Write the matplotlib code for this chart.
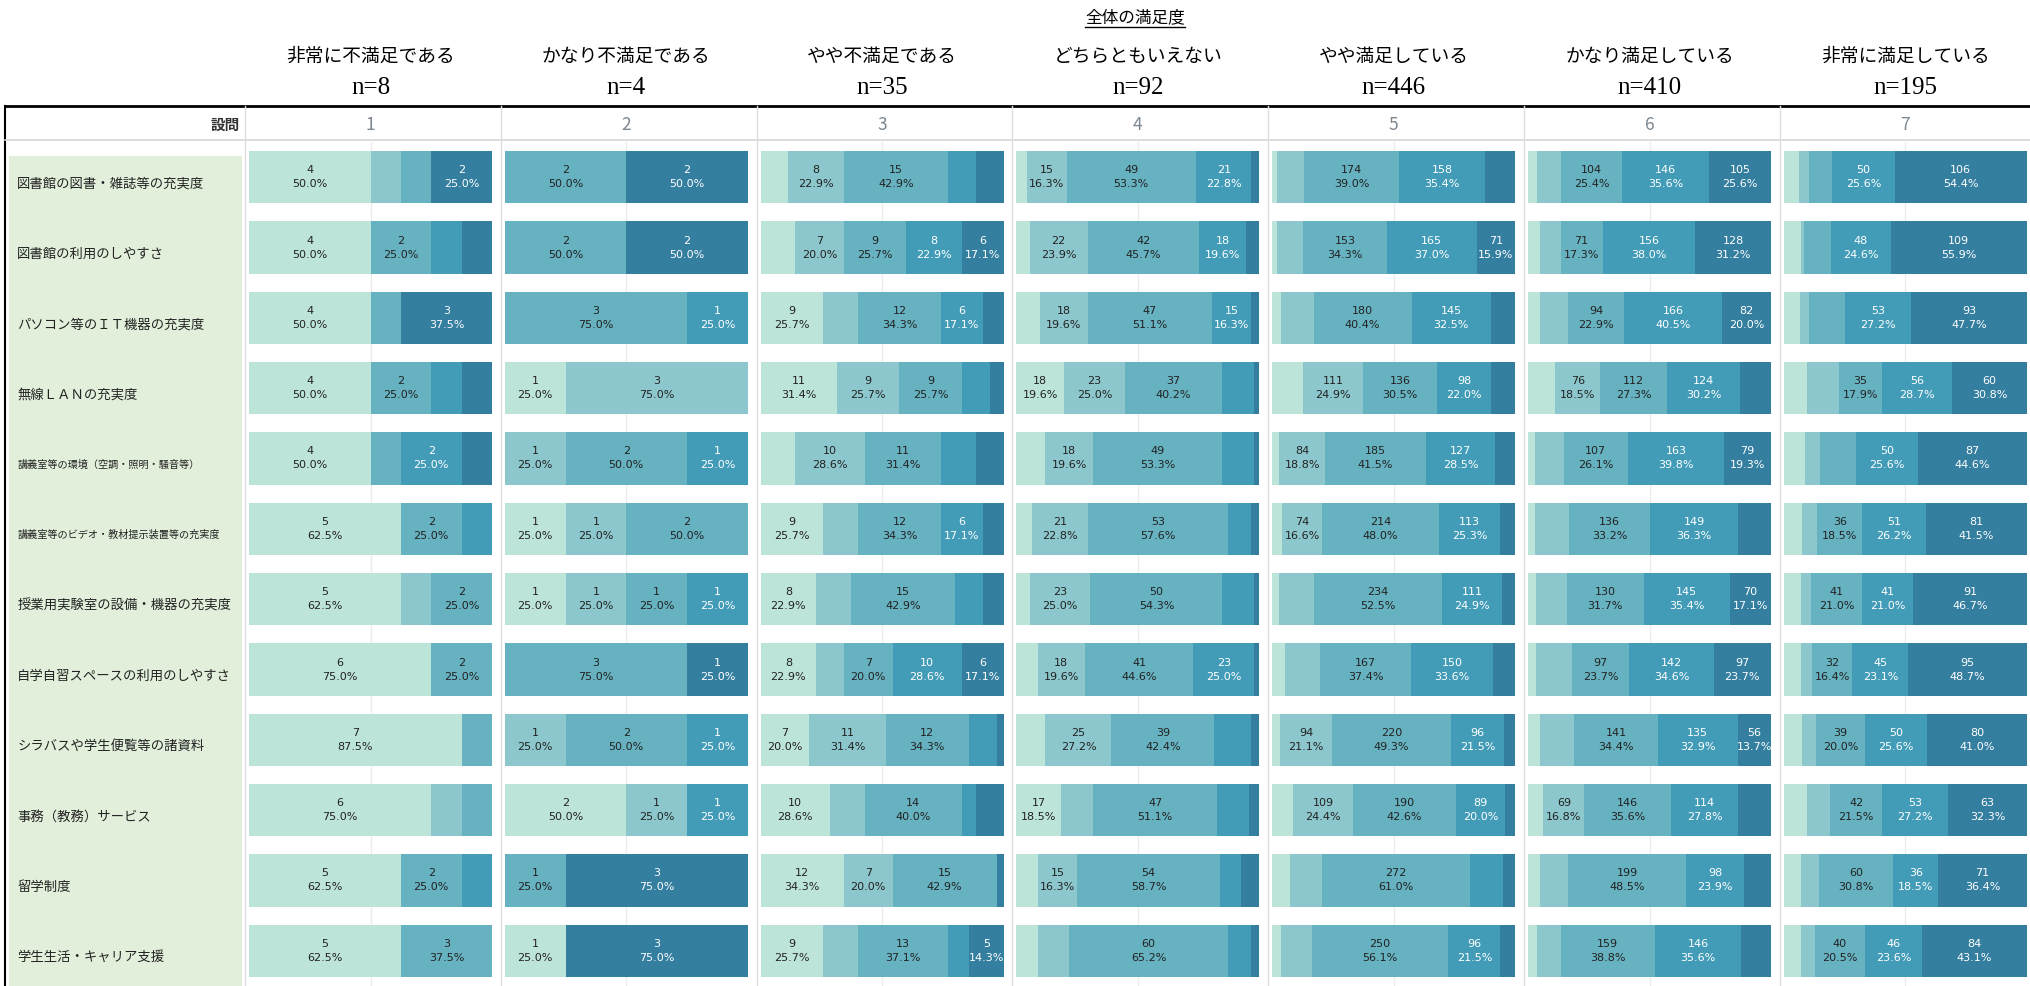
import numpy as np
import matplotlib.pyplot as plt
from matplotlib.lines import Line2D

plt.rcParams['font.family'] = ['Noto Sans CJK JP', 'DejaVu Sans']

# overall satisfaction groups (columns)
groups = ['非常に不満足である', 'かなり不満足である', 'やや不満足である', 'どちらともいえない',
          'やや満足している', 'かなり満足している', '非常に満足している']
group_n = [8, 4, 35, 92, 446, 410, 195]
col_numbers = ['1', '2', '3', '4', '5', '6', '7']

questions = ['図書館の図書・雑誌等の充実度', '図書館の利用のしやすさ', 'パソコン等のＩＴ機器の充実度',
             '無線ＬＡＮの充実度', '講義室等の環境（空調・照明・騒音等）',
             '講義室等のビデオ・教材提示装置等の充実度', '授業用実験室の設備・機器の充実度',
             '自学自習スペースの利用のしやすさ', 'シラバスや学生便覧等の諸資料',
             '事務（教務）サービス', '留学制度', '学生生活・キャリア支援']

# counts per question, answer levels low -> high (5 levels)
g1 = [[4, 1, 1, 0, 2], [4, 0, 2, 1, 1], [4, 0, 1, 0, 3], [4, 0, 2, 1, 1],
      [4, 0, 1, 2, 1], [5, 0, 2, 1, 0], [5, 1, 2, 0, 0], [6, 0, 2, 0, 0],
      [7, 0, 1, 0, 0], [6, 1, 1, 0, 0], [5, 0, 2, 1, 0], [5, 0, 3, 0, 0]]
g2 = [[0, 0, 2, 0, 2], [0, 0, 2, 0, 2], [0, 0, 3, 1, 0], [1, 3, 0, 0, 0],
      [0, 1, 2, 1, 0], [1, 1, 2, 0, 0], [1, 1, 1, 1, 0], [0, 0, 3, 0, 1],
      [0, 1, 2, 1, 0], [2, 1, 0, 1, 0], [0, 0, 1, 0, 3], [1, 0, 0, 0, 3]]
g3 = [[4, 8, 15, 4, 4], [5, 7, 9, 8, 6], [9, 5, 12, 6, 3], [11, 9, 9, 4, 2],
      [5, 10, 11, 5, 4], [9, 5, 12, 6, 3], [8, 5, 15, 4, 3], [8, 4, 7, 10, 6],
      [7, 11, 12, 4, 1], [10, 5, 14, 2, 4], [12, 7, 15, 0, 1], [9, 5, 13, 3, 5]]
g4 = [[4, 15, 49, 21, 3], [5, 22, 42, 18, 5], [9, 18, 47, 15, 3], [18, 23, 37, 12, 2],
      [11, 18, 49, 12, 2], [6, 21, 53, 9, 3], [5, 23, 50, 12, 2], [8, 18, 41, 23, 2],
      [11, 25, 39, 14, 3], [17, 12, 47, 12, 4], [8, 15, 54, 8, 7], [8, 12, 60, 9, 3]]
g5 = [[8, 51, 174, 158, 55], [9, 48, 153, 165, 71], [17, 59, 180, 145, 45],
      [56, 111, 136, 98, 45], [13, 84, 185, 127, 37], [18, 74, 214, 113, 27],
      [12, 65, 234, 111, 24], [23, 65, 167, 150, 41], [15, 94, 220, 96, 21],
      [39, 109, 190, 89, 19], [32, 59, 272, 60, 23], [17, 56, 250, 96, 27]]
g6 = [[16, 39, 104, 146, 105], [21, 34, 71, 156, 128], [21, 47, 94, 166, 82],
      [46, 76, 112, 124, 52], [11, 50, 107, 163, 79], [12, 58, 136, 149, 55],
      [13, 52, 130, 145, 70], [14, 60, 97, 142, 97], [21, 57, 141, 135, 56],
      [26, 69, 146, 114, 55], [21, 47, 199, 98, 45], [16, 39, 159, 146, 50]]
g7 = [[12, 8, 19, 50, 106], [14, 2, 22, 48, 109], [13, 7, 29, 53, 93],
      [19, 25, 35, 56, 60], [17, 12, 29, 50, 87], [15, 12, 36, 51, 81],
      [14, 8, 41, 41, 91], [14, 9, 32, 45, 95], [15, 11, 39, 50, 80],
      [19, 18, 42, 53, 63], [14, 14, 60, 36, 71], [14, 11, 40, 46, 84]]
all_counts = [g1, g2, g3, g4, g5, g6, g7]

colors = ['#bde4d9', '#8cc7cd', '#66b2c1', '#429cb8', '#347ea0']
text_colors = ['#222222', '#222222', '#222222', 'white', 'white']

W, H = 2030, 986
fig = plt.figure(figsize=(W / 100, H / 100), dpi=100)


def fx(px):
    return px / W


def fy(py):
    return 1 - py / H


body_top = 142
body_h = (H - body_top) / H
pitch = 255.8
bar_w = 243

# frame lines
fig.add_artist(Line2D([fx(5), 1], [fy(106), fy(106)], color='black', lw=2))
fig.add_artist(Line2D([fx(5), fx(5)], [fy(106), 0], color='black', lw=1.5))
fig.add_artist(Line2D([fx(5), 1], [fy(140), fy(140)], color='#d6d6d6', lw=1.2))

fig.text(fx(240), fy(125), '設問', ha='right', va='center', fontsize=10.5,
         fontweight='bold', color='#333333')

# row label panel
lax = fig.add_axes([fx(9), 0, fx(233), body_h])
lax.set_xlim(0, 1)
lax.set_ylim(len(questions) - 0.5, -0.5)
lax.axhspan(-0.3, len(questions) - 0.5, color='#e2efda', lw=0)
lax.axis('off')
for r, q in enumerate(questions):
    fs = 7.3 if len(q) > 17 else 9.6
    lax.text(0.035, r + 0.09, q, ha='left', va='center', fontsize=fs, color='#222222')

for i, (counts, n) in enumerate(zip(all_counts, group_n)):
    left_px = 249 + i * pitch
    cx = left_px + bar_w / 2
    fig.add_artist(Line2D([fx(left_px - 4)] * 2, [fy(106), 0], color='#dedede', lw=1))
    fig.text(fx(cx), fy(56), groups[i], ha='center', va='center', fontsize=13.5)
    fig.text(fx(cx), fy(88), f'n={n}', ha='center', va='center', fontsize=18,
             family='Liberation Serif')
    fig.text(fx(cx), fy(125), col_numbers[i], ha='center', va='center',
             fontsize=12.5, color='#7d8790')

    ax = fig.add_axes([fx(left_px), 0, fx(bar_w), body_h])
    ax.set_xlim(0, n)
    ax.set_ylim(len(questions) - 0.5, -0.5)
    ax.axvline(n / 2, color='#ececec', lw=1, zorder=0)
    ax.axis('off')
    for r, row in enumerate(counts):
        row = np.array(row)
        starts = np.concatenate([[0], np.cumsum(row)[:-1]])
        last = np.nonzero(row)[0][-1]
        for k in range(5):
            v = row[k]
            if v == 0:
                continue
            ax.barh(r, v, left=starts[k], height=0.74, color=colors[k], lw=0)
            pct = v / n * 100
            if pct >= 15.5 or (k == last and pct >= 13.6):
                ax.text(starts[k] + v / 2, r, f'{v}\n{pct:.1f}%', ha='center',
                        va='center', fontsize=8, color=text_colors[k],
                        family='DejaVu Sans', linespacing=1.5, clip_on=False)

# title with underline
t = fig.text(fx(1135), fy(18), '全体の満足度', ha='center', va='center', fontsize=12)
fig.canvas.draw()
bb = t.get_window_extent().transformed(fig.transFigure.inverted())
fig.add_artist(Line2D([bb.x0, bb.x1], [bb.y0 - 0.001, bb.y0 - 0.001], color='black', lw=1))

fig.savefig('out.png', dpi=100, facecolor='white')
